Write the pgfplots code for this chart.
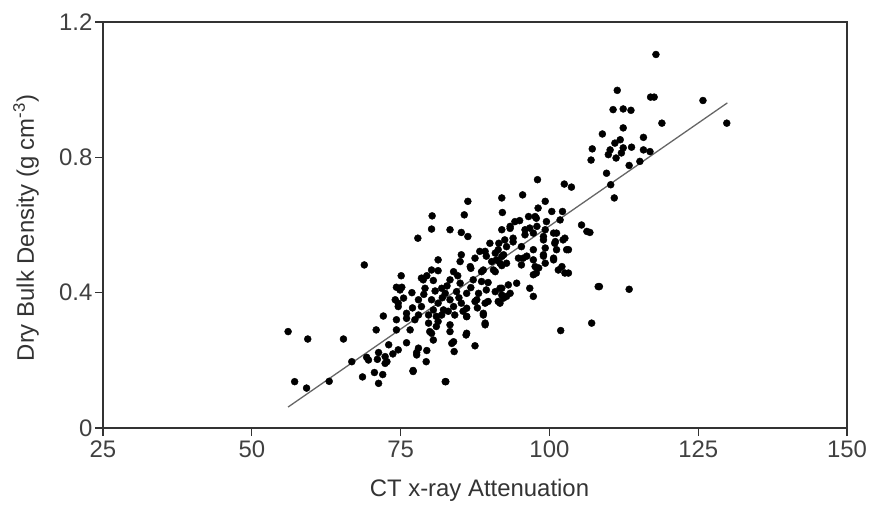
\documentclass[border=0pt]{standalone}
\usepackage{pgfplots}
\pgfplotsset{compat=1.18}
\usepackage{fontspec}
\setmainfont{Liberation Sans}
\begin{document}
\begin{tikzpicture}
\begin{axis}[
  at={(0,0)}, anchor=south west,
  width=744bp, height=406bp, scale only axis,
  xmin=25, xmax=150, ymin=0, ymax=1.2,
  xtick={25,50,75,100,125,150},
  ytick={0,0.4,0.8,1.2},
  yticklabels={0,0.4,0.8,1.2},
  tick pos=left, tick align=outside,
  major tick length=8bp,
  axis line style={line width=1.6bp, color=black!80},
  tick style={line width=1.2bp, color=black!80},
  tick label style={font=\fontsize{24}{28}\selectfont, color=black!75, inner sep=2.5bp},
  xticklabel style={yshift=-2bp},
  label style={font=\fontsize{24}{28}\selectfont, color=black!80},
  xlabel={CT x-ray Attenuation},
  ylabel={Dry Bulk Density (g cm\textsuperscript{-3})},
  x label style={at={(axis description cs:0.506,-0.1675)}, anchor=base},
  y label style={at={(axis description cs:-0.1035,0.4926)}, anchor=center},
  /pgf/number format/assume math mode=true,
  clip=false,
]
\addplot[only marks, mark=*, mark size=3.5bp, black] table {
x y
56.1 0.285
59.4 0.263
65.4 0.263
57.2 0.137
59.2 0.118
63.0 0.138
68.9 0.482
66.8 0.196
68.6 0.151
69.3 0.209
69.6 0.201
70.6 0.164
71.3 0.132
71.1 0.203
71.3 0.223
72.0 0.158
72.4 0.211
72.7 0.196
73.0 0.246
73.7 0.219
70.9 0.290
72.1 0.331
74.3 0.290
74.3 0.320
74.1 0.379
74.3 0.416
74.9 0.408
75.1 0.450
75.5 0.384
74.6 0.359
74.6 0.231
75.2 0.416
74.6 0.369
76.0 0.252
76.0 0.324
76.6 0.290
76.0 0.339
77.1 0.167
77.7 0.223
78.0 0.236
79.3 0.196
79.4 0.229
80.2 0.280
80.5 0.260
82.6 0.137
83.3 0.285
83.6 0.250
84.0 0.226
86.0 0.275
87.5 0.243
77.7 0.216
72.4 0.191
86.3 0.670
80.3 0.627
85.7 0.630
92.1 0.637
80.2 0.588
83.3 0.586
85.2 0.578
86.3 0.566
77.9 0.561
91.5 0.546
89.2 0.522
90.9 0.517
92.3 0.512
85.2 0.512
87.5 0.502
81.3 0.497
85.0 0.492
90.3 0.492
91.7 0.487
86.7 0.477
88.9 0.467
80.2 0.467
81.3 0.465
83.9 0.462
90.9 0.462
78.8 0.438
80.5 0.436
83.3 0.438
85.0 0.428
87.2 0.438
88.6 0.433
89.7 0.430
79.1 0.413
81.9 0.413
82.5 0.398
84.4 0.403
86.1 0.398
88.1 0.398
90.9 0.403
92.0 0.393
78.0 0.379
80.2 0.379
81.3 0.369
83.3 0.379
85.2 0.369
87.5 0.374
89.2 0.369
91.4 0.374
78.5 0.359
80.5 0.349
82.2 0.349
83.9 0.359
86.1 0.354
78.0 0.334
79.7 0.334
81.9 0.334
84.1 0.334
86.1 0.329
88.9 0.334
77.4 0.320
79.7 0.310
81.3 0.315
83.3 0.305
89.2 0.305
79.9 0.285
83.9 0.255
82.5 0.137
77.1 0.170
81.0 0.300
82.8 0.420
84.6 0.450
79.4 0.450
82.0 0.385
84.8 0.385
86.8 0.415
80.8 0.405
78.9 0.395
77.0 0.355
76.9 0.400
83.0 0.345
85.5 0.345
87.9 0.355
81.0 0.330
107.2 0.825
107.0 0.792
98.0 0.734
102.5 0.721
103.7 0.712
92.0 0.680
95.5 0.689
99.3 0.670
98.1 0.650
100.4 0.640
102.2 0.640
94.2 0.610
95.0 0.613
96.5 0.625
97.8 0.620
99.5 0.610
101.8 0.615
105.4 0.600
106.3 0.581
93.4 0.590
95.9 0.586
97.3 0.576
99.3 0.586
101.2 0.576
102.3 0.556
92.5 0.556
93.9 0.561
90.0 0.546
91.4 0.527
95.3 0.536
97.3 0.527
99.0 0.556
100.9 0.546
102.9 0.527
88.3 0.522
89.4 0.508
91.1 0.497
92.8 0.487
94.8 0.502
96.2 0.508
99.0 0.508
100.7 0.497
86.8 0.472
88.6 0.462
90.6 0.467
97.6 0.477
97.8 0.458
102.1 0.477
102.6 0.458
78.5 0.443
94.5 0.428
96.7 0.413
91.7 0.413
89.4 0.408
97.3 0.389
92.8 0.389
108.2 0.418
107.1 0.310
101.9 0.288
87.8 0.379
89.7 0.374
91.7 0.369
88.9 0.339
89.2 0.310
86.1 0.330
86.1 0.280
97.6 0.625
93.4 0.596
96.7 0.591
97.9 0.596
92.0 0.586
95.9 0.571
99.0 0.566
100.7 0.576
102.6 0.561
93.9 0.550
101.0 0.551
103.2 0.527
92.8 0.536
99.3 0.532
101.2 0.527
92.0 0.507
95.6 0.502
99.0 0.512
97.3 0.497
92.0 0.480
95.3 0.482
100.7 0.502
98.2 0.473
99.3 0.487
103.2 0.458
101.5 0.467
97.3 0.453
93.1 0.423
92.0 0.413
93.4 0.398
92.3 0.384
117.9 1.104
111.4 0.998
117.0 0.978
117.6 0.978
110.7 0.941
112.4 0.943
113.7 0.939
118.9 0.901
112.4 0.887
108.9 0.869
115.8 0.859
111.9 0.852
111.0 0.842
110.2 0.822
112.4 0.828
113.8 0.830
115.8 0.822
116.9 0.817
109.9 0.808
112.1 0.813
111.2 0.798
113.4 0.776
115.2 0.788
109.6 0.753
110.3 0.719
110.9 0.680
106.8 0.578
108.4 0.418
113.4 0.410
125.8 0.968
129.8 0.901
};
\addplot[no marks, color=black!60, line width=1.3bp] coordinates {(56.1,0.062) (129.9,0.961)};
\end{axis}
\path[use as bounding box] (-103bp,-71bp) rectangle (768bp,428bp);
\end{tikzpicture}
\end{document}
